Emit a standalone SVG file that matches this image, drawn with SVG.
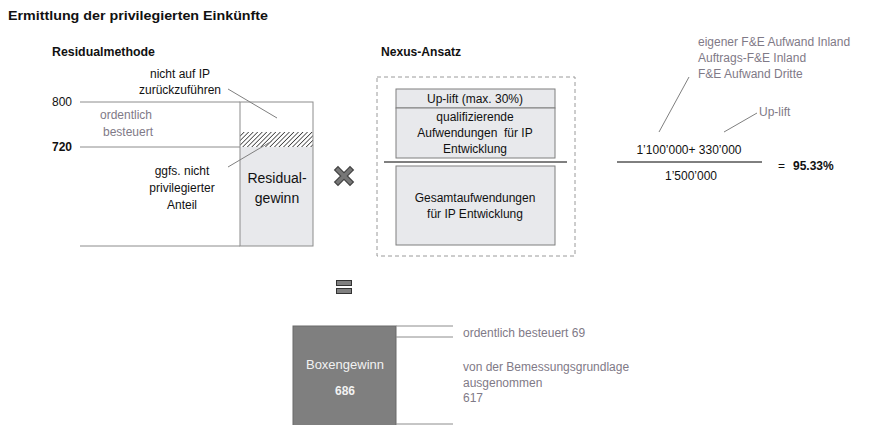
<svg xmlns="http://www.w3.org/2000/svg" width="876" height="425" viewBox="0 0 876 425">
<defs>
<style>
text{font-family:"Liberation Sans",Arial,sans-serif;font-size:12px;fill:#111}
.b{font-weight:bold}
.g{fill:#7f7a87}
.c{text-anchor:middle}
.ln{stroke:#8c8c8c;stroke-width:1;fill:none}
.lead{stroke:#7f7f7f;stroke-width:1;fill:none}
.box{fill:#e8e9ec;stroke:#7f7f7f;stroke-width:1}
</style>
<pattern id="hatch" patternUnits="userSpaceOnUse" width="3.2" height="3.2" patternTransform="rotate(45)">
<rect width="3.2" height="3.2" fill="#fff"/>
<line x1="0" y1="0" x2="0" y2="3.2" stroke="#333" stroke-width="1.5"/>
</pattern>
</defs>
<rect width="876" height="425" fill="#fff"/>
<text x="8" y="20" class="b" style="font-size:13px" textLength="260" lengthAdjust="spacingAndGlyphs">Ermittlung der privilegierten Einkünfte</text>

<g id="residualmethode">
<text x="52" y="56" class="b" style="font-size:12px" textLength="103" lengthAdjust="spacingAndGlyphs">Residualmethode</text>
<line class="ln" x1="80" y1="102" x2="240" y2="102"/>
<line class="ln" x1="80" y1="147" x2="240" y2="147"/>
<line class="ln" x1="80" y1="246" x2="240" y2="246"/>
<text x="52" y="106">800</text>
<text x="52" y="151" class="b">720</text>
<text x="100" y="119" class="g">ordentlich</text>
<text x="103" y="136" class="g">besteuert</text>
<rect x="240" y="102" width="73" height="30" fill="#fff"/>
<rect x="240" y="132" width="73" height="15" fill="url(#hatch)"/>
<rect x="240" y="147" width="73" height="99" fill="#e8e9ec"/>
<rect x="240" y="102" width="73" height="144" fill="none" stroke="#8c8c8c"/>
<text x="277" y="183" class="c" style="font-size:14px">Residual-</text>
<text x="277" y="203" class="c" style="font-size:14px">gewinn</text>
<text x="180" y="78" class="c">nicht auf IP</text>
<text x="180" y="94" class="c">zurückzuführen</text>
<text x="182" y="175" class="c">ggfs. nicht</text>
<text x="182" y="192" class="c">privilegierter</text>
<text x="182" y="209" class="c">Anteil</text>
</g>

<g id="operator-mal">
<path d="M338,170 L344,176 L350,170 M338,182 L344,176 L350,182" stroke="#444" stroke-width="6" stroke-linecap="square" fill="none"/>
<path d="M338,170 L344,176 L350,170 M338,182 L344,176 L350,182" stroke="#777" stroke-width="3.6" stroke-linecap="square" fill="none"/>
</g>

<g id="nexus-ansatz">
<text x="381" y="56" class="b" style="font-size:12px" textLength="80" lengthAdjust="spacingAndGlyphs">Nexus-Ansatz</text>
<rect x="377" y="77" width="198" height="179" fill="none" stroke="#9a9a9a" stroke-dasharray="4,3"/>
<rect class="box" x="396" y="89" width="159" height="19"/>
<text x="475" y="103" class="c">Up-lift (max. 30%)</text>
<rect class="box" x="396" y="108" width="159" height="50"/>
<text x="475" y="121" class="c">qualifizierende</text>
<text x="475" y="137" class="c" style="white-space:pre">Aufwendungen  für IP</text>
<text x="475" y="153" class="c">Entwicklung</text>
<line x1="384" y1="162" x2="567" y2="162" stroke="#000" stroke-width="1"/>
<rect class="box" x="396" y="166" width="159" height="79"/>
<text x="475" y="202" class="c">Gesamtaufwendungen</text>
<text x="475" y="218" class="c">für IP Entwicklung</text>
</g>

<g id="formel">
<text x="698" y="46" class="g">eigener F&amp;E Aufwand Inland</text>
<text x="698" y="62" class="g">Auftrags-F&amp;E Inland</text>
<text x="698" y="78" class="g">F&amp;E Aufwand Dritte</text>
<text x="759" y="116" class="g">Up-lift</text>
<text x="689" y="154" class="c">1’100’000+ 330’000</text>
<line x1="617" y1="162" x2="762" y2="162" stroke="#000"/>
<text x="691" y="180" class="c">1’500’000</text>
<text x="778" y="170">=</text>
<text x="793" y="170" class="b">95.33%</text>
</g>

<g id="operator-gleich">
<rect x="336.5" y="280.5" width="15" height="5" fill="#808080" stroke="#333"/>
<rect x="336.5" y="288.5" width="15" height="5" fill="#808080" stroke="#333"/>
</g>

<g id="boxengewinn">
<rect x="293" y="326" width="103" height="100" fill="#7f7f7f" stroke="#6a6a6a"/>
<text x="345" y="369" class="c" style="fill:#f2f2f2;font-size:13px">Boxengewinn</text>
<text x="345" y="395" class="c b" style="fill:#f2f2f2;font-size:12px">686</text>
<text x="463" y="337" class="g">ordentlich besteuert 69</text>
<text x="463" y="371" class="g">von der Bemessungsgrundlage</text>
<text x="463" y="387" class="g">ausgenommen</text>
<text x="463" y="402" class="g">617</text>
</g>

<g id="connectors">
<line class="lead" x1="228" y1="89" x2="277" y2="118"/>
<line class="lead" x1="228" y1="167" x2="272" y2="141"/>
<line class="lead" x1="689" y1="77" x2="659" y2="132"/>
<line class="lead" x1="757" y1="113" x2="724" y2="132"/>
<line class="ln" x1="396" y1="326" x2="453" y2="326"/>
<line class="ln" x1="396" y1="337" x2="453" y2="337"/>
<line class="ln" x1="396" y1="424" x2="453" y2="424"/>
</g>
</svg>
